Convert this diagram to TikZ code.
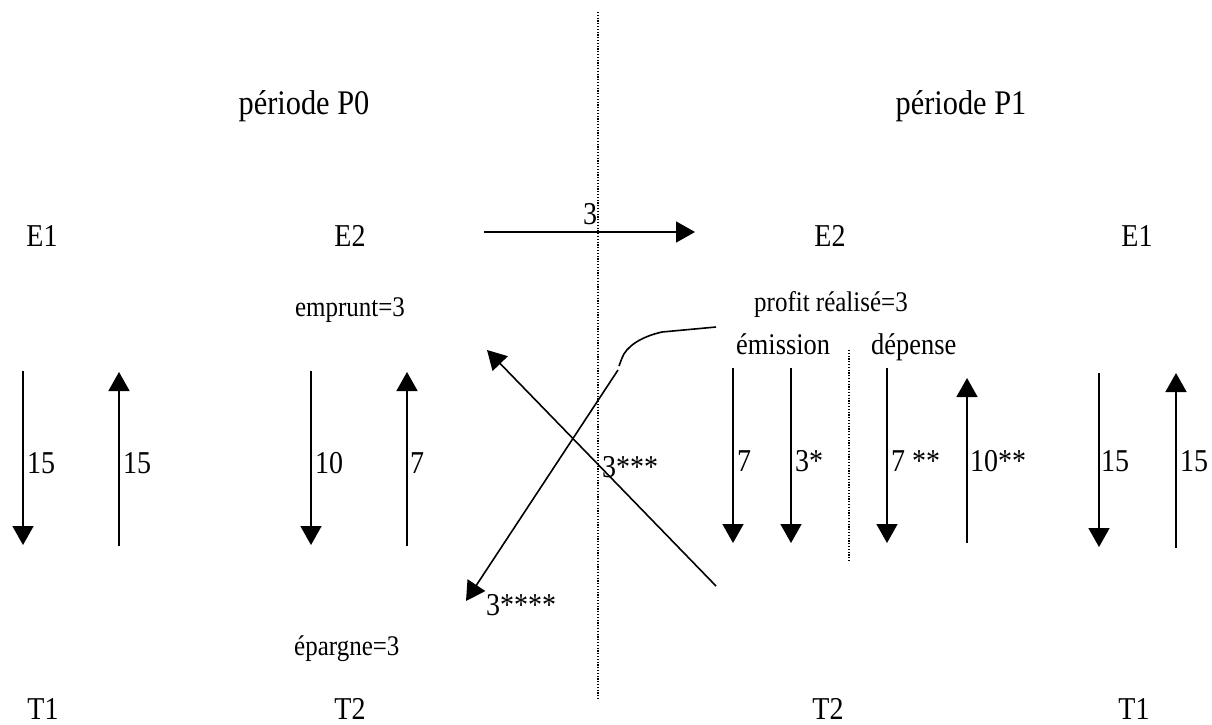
\documentclass[tikz,border=0pt]{standalone}
\usepackage{fontspec}
\setmainfont{Liberation Serif}[FakeStretch=0.88]
\usetikzlibrary{arrows.meta}
\begin{document}
\begin{tikzpicture}[x=1pt,y=-1pt,
  lbl/.style={inner sep=0pt, font=\fontsize{31.8}{38}\selectfont},
  small/.style={inner sep=0pt, font=\fontsize{28.4}{34}\selectfont},
  mid/.style={inner sep=0pt, font=\fontsize{30}{36}\selectfont},
  ttl/.style={inner sep=0pt, font=\fontsize{34.5}{41}\selectfont},
  flow/.style={line width=1.6pt, -{Triangle[width=21pt,length=19pt]}},
  plain/.style={line width=1.6pt},
  sep/.style={line width=1.2pt, dash pattern=on 1.2pt off 1.6pt}]
\useasboundingbox (0,0) rectangle (1212,724);

% separators
\coordinate (sepT) at (598,12);
\coordinate (sepB) at (598,700);
\draw[sep] (sepT) -- (sepB);
\coordinate (isepT) at (849,350);
\coordinate (isepB) at (849,562);
\draw[sep] (isepT) -- (isepB);

% titles
\node[ttl, anchor=base] (p0) at (304,114) {période P0};
\node[ttl, anchor=base] (p1) at (961,114) {période P1};

% E row
\node[lbl, anchor=base] (e1l) at (42,246) {E1};
\node[lbl, anchor=base] (e2l) at (350,246) {E2};
\node[lbl, anchor=base] (e2r) at (830,246) {E2};
\node[lbl, anchor=base] (e1r) at (1137,246) {E1};

% T row
\node[lbl, anchor=base] (t1l) at (43,719) {T1};
\node[lbl, anchor=base] (t2l) at (350,719) {T2};
\node[lbl, anchor=base] (t2r) at (828,719) {T2};
\node[lbl, anchor=base] (t1r) at (1134,719) {T1};

% horizontal arrow
\coordinate (hA) at (484,232);
\coordinate (hB) at (695,232);
\draw[flow] (hA) -- (hB);
\node[lbl, anchor=base] (h3) at (590,224) {3};

% small labels
\node[small, anchor=base] (empr) at (350,316) {emprunt=3};
\node[small, anchor=base west] (prof) at (754,311) {profit réalisé=3};
\node[mid, anchor=base west] (emis) at (736,354) {émission};
\node[mid, anchor=base west] (dep) at (871,354) {dépense};
\node[small, anchor=base west] (epar) at (294,655) {épargne=3};

% left vertical arrows
\coordinate (a1t) at (23,371);  \coordinate (a1b) at (23,545);
\coordinate (a2t) at (119,372); \coordinate (a2b) at (119,546);
\coordinate (a3t) at (311,371); \coordinate (a3b) at (311,545);
\coordinate (a4t) at (407,372); \coordinate (a4b) at (407,546);
\draw[flow] (a1t) -- (a1b);
\draw[flow] (a2b) -- (a2t);
\draw[flow] (a3t) -- (a3b);
\draw[flow] (a4b) -- (a4t);
\node[lbl, anchor=base west] (l1) at (27,473) {15};
\node[lbl, anchor=base west] (l2) at (123,473) {15};
\node[lbl, anchor=base west] (l3) at (315,473) {10};
\node[lbl, anchor=base west] (l4) at (410,473) {7};

% right vertical arrows
\coordinate (b1t) at (733,368);  \coordinate (b1b) at (733,543);
\coordinate (b2t) at (791,368);  \coordinate (b2b) at (791,543);
\coordinate (b3t) at (887,368);  \coordinate (b3b) at (887,543);
\coordinate (b4t) at (967,378);  \coordinate (b4b) at (967,543);
\coordinate (b5t) at (1099,373); \coordinate (b5b) at (1099,547);
\coordinate (b6t) at (1176,373); \coordinate (b6b) at (1176,548);
\draw[flow] (b1t) -- (b1b);
\draw[flow] (b2t) -- (b2b);
\draw[flow] (b3t) -- (b3b);
\draw[flow] (b4b) -- (b4t);
\draw[flow] (b5t) -- (b5b);
\draw[flow] (b6b) -- (b6t);
\node[lbl, anchor=base west] (r1) at (737,471) {7};
\node[lbl, anchor=base west] (r2) at (795,471) {3*};
\node[lbl, anchor=base west] (r3) at (891,471) {7 **};
\node[lbl, anchor=base west] (r4) at (970,471) {10**};
\node[lbl, anchor=base west] (r5) at (1101,471) {15};
\node[lbl, anchor=base west] (r6) at (1180,471) {15};

% crossing arrows
\coordinate (dA) at (716,586);
\coordinate (dB) at (487,350);
\draw[flow] (dA) -- (dB);
\coordinate (cA) at (716,327);
\coordinate (cB) at (662,332);
\coordinate (cC) at (622,358);
\coordinate (cD) at (619,366);
\draw[plain] (cA) -- (cB) .. controls (640,337) and (626,347) .. (cC) -- (cD);
\coordinate (eA) at (618,370);
\coordinate (eB) at (466,601);
\draw[flow] (eA) -- (eB);
\node[lbl, anchor=base west] (s3) at (602,477) {3***};
\node[lbl, anchor=base west] (s4) at (486,615) {3****};
\end{tikzpicture}
\end{document}
